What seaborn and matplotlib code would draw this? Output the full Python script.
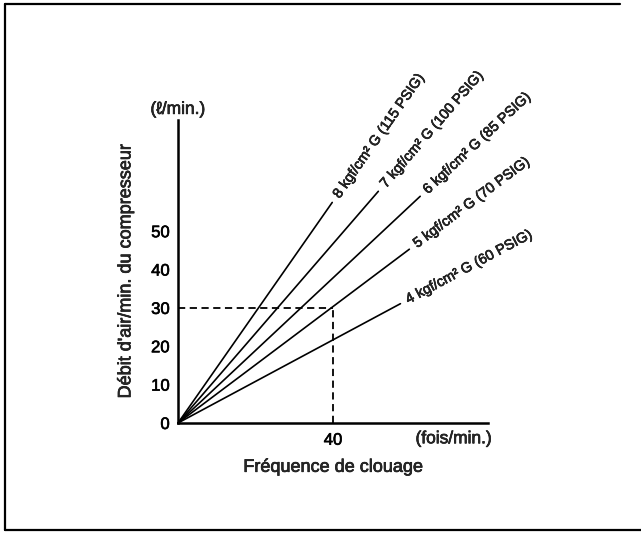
import math

import matplotlib.patheffects as pe
import matplotlib.pyplot as plt
import pandas as pd
import seaborn as sns
from matplotlib.lines import Line2D

# Pressure curves (end points)
pressures_kgf = [8, 7, 6, 5, 4]
pressures_psig = [115, 100, 85, 70, 60]
freq_end = [39.8, 51.7, 62.5, 59.7, 57.4]
flow_end = [57.5, 60.4, 59.1, 45.3, 31.1]

# Reference point (dashed guide)
ref_freq = 40
ref_flow = 30

y_ticks = [0, 10, 20, 30, 40, 50]
x_ticks = [40]


def main():
    sns.set_style("white")
    plt.rcParams["font.family"] = ["Liberation Sans", "DejaVu Sans"]

    # slightly heavier text, like the printed original
    heavy = [pe.withStroke(linewidth=0.45, foreground="black")]

    # long-form table: each curve goes from the origin to its end point
    rows = []
    for p, xe, ye in zip(pressures_kgf, freq_end, flow_end):
        rows.append({"pression": p, "freq": 0, "debit": 0})
        rows.append({"pression": p, "freq": xe, "debit": ye})
    df = pd.DataFrame(rows)

    fig = plt.figure(figsize=(6.41, 5.33), dpi=100)
    ax = fig.add_axes([0.2777, 0.2064, 0.4836, 0.5685])

    sns.lineplot(
        data=df, x="freq", y="debit", units="pression", estimator=None,
        color="black", linewidth=1.2, ax=ax, clip_on=False,
    )

    # dashed guide lines
    ax.plot([0, ref_freq], [ref_flow, ref_flow], color="black", lw=1.3,
            linestyle=(0, (4, 2.5)))
    ax.plot([ref_freq, ref_freq], [0, ref_flow], color="black", lw=1.3,
            linestyle=(0, (4, 2.5)))

    ax.set_xlim(0, 80)
    ax.set_ylim(0, 79)

    sns.despine(ax=ax)
    for side in ["left", "bottom"]:
        ax.spines[side].set_linewidth(1.8)
        ax.spines[side].set_color("black")

    ax.set_yticks(y_ticks)
    ax.set_xticks(x_ticks)
    ax.tick_params(axis="y", direction="in", length=7.5, width=1.4,
                   labelsize=12, pad=6, colors="black")
    ax.tick_params(axis="x", length=0, labelsize=12, pad=7, colors="black")
    for lab in ax.get_xticklabels() + ax.get_yticklabels():
        lab.set_path_effects(heavy)

    ax.set_xlabel("Fréquence de clouage", fontsize=13, labelpad=8,
                  path_effects=heavy)
    ax.set_ylabel("Débit d'air/min. du compresseur", fontsize=13, labelpad=12,
                  path_effects=heavy)

    # unit labels
    ax.text(0, 1.035, "(ℓ/min.)", transform=ax.transAxes, ha="center",
            va="center", fontsize=12.5, path_effects=heavy)
    ax.text(0.89, -0.052, "(fois/min.)", transform=ax.transAxes, ha="center",
            va="center", fontsize=12.5, path_effects=heavy)

    # curve labels along each line
    for p, psig, xe, ye in zip(pressures_kgf, pressures_psig, freq_end, flow_end):
        x0, y0 = ax.transData.transform((0, 0))
        x1, y1 = ax.transData.transform((xe, ye))
        ang = math.atan2(y1 - y0, x1 - x0)
        off = 5
        ax.annotate(
            f"{p} kgf/cm² G ({psig} PSIG)",
            xy=(xe, ye),
            xytext=(off * math.cos(ang), off * math.sin(ang)),
            textcoords="offset points",
            rotation=math.degrees(ang), rotation_mode="anchor",
            ha="left", va="center", fontsize=10.3, annotation_clip=False,
            path_effects=heavy,
        )

    # page frame (top, left, bottom)
    W, H = 641, 533
    frame = [
        ((5 / W, 620 / W), (1 - 4 / H, 1 - 4 / H)),
        ((5 / W, 5 / W), (1 - 4 / H, 1 - 530 / H)),
        ((5 / W, 1.0), (1 - 530 / H, 1 - 530 / H)),
    ]
    for xs, ys in frame:
        fig.add_artist(Line2D(xs, ys, transform=fig.transFigure,
                              color="black", linewidth=1.6))

    fig.savefig("out.png", dpi=100, facecolor="white")
    plt.close(fig)


if __name__ == "__main__":
    main()
